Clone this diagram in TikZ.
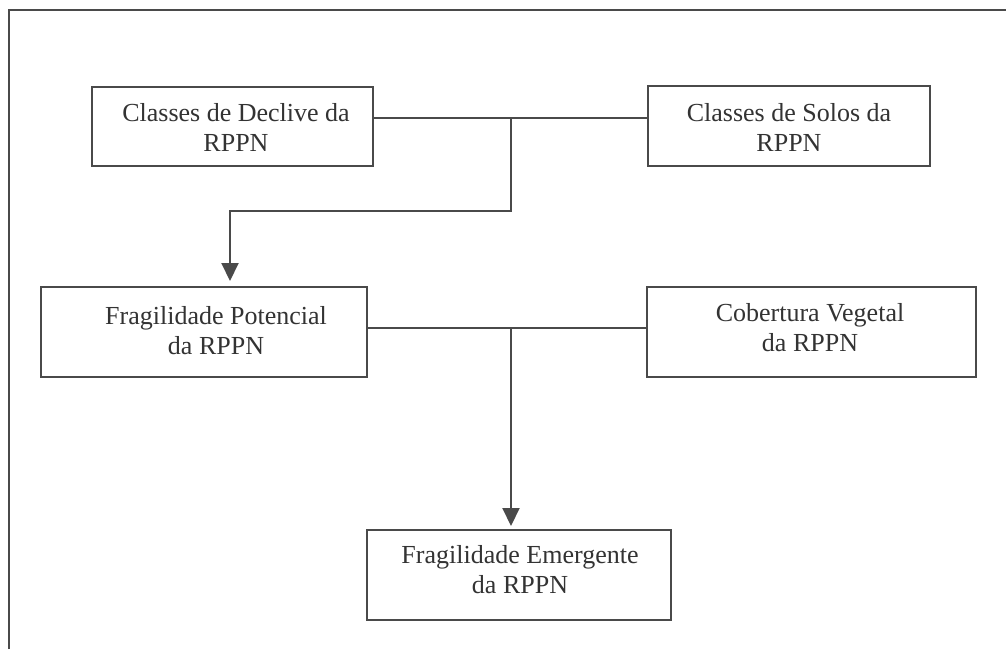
\documentclass[tikz,border=0pt]{standalone}
\usepackage{fontspec}
\setmainfont{Liberation Serif}
\usetikzlibrary{arrows.meta}
\definecolor{ln}{HTML}{4A4A4A}
\definecolor{tx}{HTML}{333333}
\begin{document}
\begin{tikzpicture}[x=1pt,y=-1pt,
  box/.style={draw=ln,line width=2pt,rectangle,inner sep=0pt},
  lbl/.style={text=tx,align=center,font=\fontsize{26}{30}\selectfont,inner sep=0pt},
  conn/.style={draw=ln,line width=2pt},
  arr/.style={conn,-{Triangle[length=18pt,width=17pt]}}]
\useasboundingbox (0,0) rectangle (1006,649);
\fill[white] (0,0) rectangle (1006,649);
% frame (top and left edges)
\draw[ln,line width=2pt] (9,649) -- (9,10) -- (1006,10);
% boxes
\node[box,minimum width=281pt,minimum height=79pt] (b1) at (232.5,126.5) {};
\node[box,minimum width=282pt,minimum height=80pt] (b2) at (789,126) {};
\node[box,minimum width=326pt,minimum height=90pt] (b3) at (204,332) {};
\node[box,minimum width=329pt,minimum height=90pt] (b4) at (811.5,332) {};
\node[box,minimum width=304pt,minimum height=90pt] (b5) at (519,575) {};
% labels
\node[lbl] (t1) at (236,127) {Classes de Declive da\\RPPN};
\node[lbl] (t2) at (789,127) {Classes de Solos da\\RPPN};
\node[lbl] (t3) at (216,331) {Fragilidade Potencial\\da RPPN};
\node[lbl] (t4) at (810,328) {Cobertura Vegetal\\da RPPN};
\node[lbl] (t5) at (520,570) {Fragilidade Emergente\\da RPPN};
% connectors
\coordinate (j1) at (511,118);
\coordinate (k1) at (230,211);
\coordinate (j2) at (511,328);
\draw[conn] (b1.east |- j1) -- (b2.west |- j1);
\draw[arr,shorten >=5pt] (j1) |- (k1) -- (k1 |- b3.north);
\draw[conn] (b3.east |- j2) -- (b4.west |- j2);
\draw[arr,shorten >=3pt] (j2) -- (j2 |- b5.north);
\end{tikzpicture}
\end{document}
